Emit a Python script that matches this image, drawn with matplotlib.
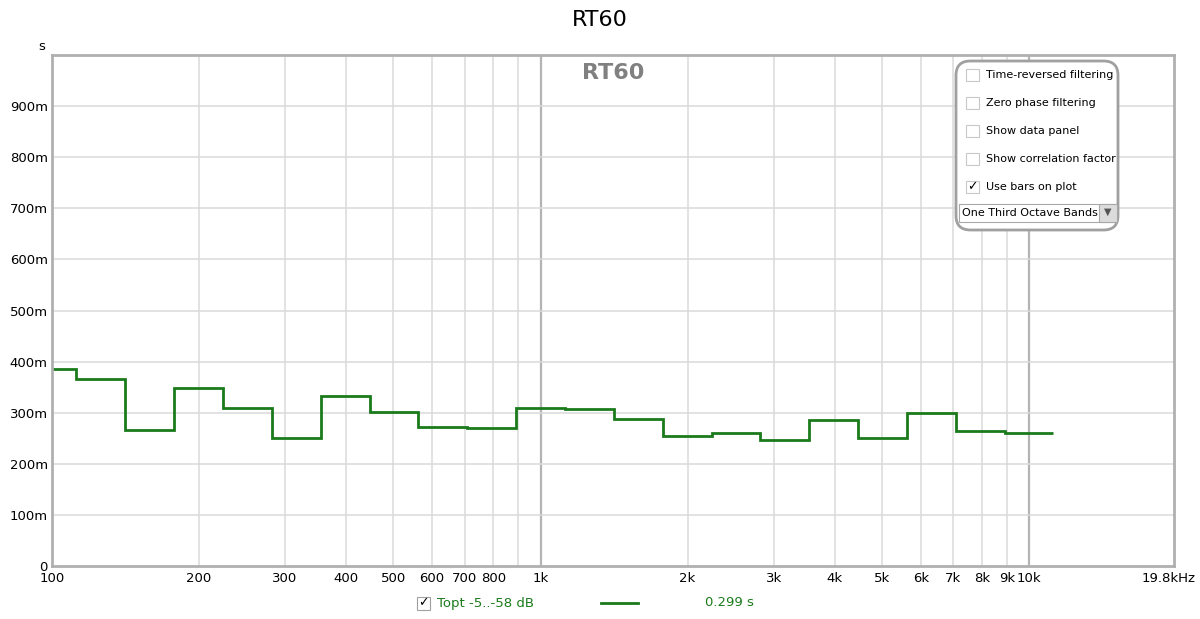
import numpy as np
import matplotlib.pyplot as plt
import matplotlib.transforms as mtransforms
from matplotlib.patches import FancyBboxPatch, Rectangle

# one-third octave band centres (Hz) and RT60 (s)
centres = [100, 125, 160, 200, 250, 315, 400, 500, 630, 800, 1000,
           1250, 1600, 2000, 2500, 3150, 4000, 5000, 6300, 8000, 10000]
rt60 = [0.385, 0.366, 0.267, 0.348, 0.309, 0.251, 0.332, 0.301, 0.272, 0.270, 0.310,
        0.307, 0.288, 0.254, 0.260, 0.246, 0.285, 0.250, 0.299, 0.264, 0.261]

xticks = [100, 200, 300, 400, 500, 600, 700, 800, 900, 1000, 2000, 3000, 4000,
          5000, 6000, 7000, 8000, 9000, 10000, 19800]
xlabels = ['100', '200', '300', '400', '500', '600', '700', '800', '', '1k', '2k', '3k',
           '4k', '5k', '6k', '7k', '8k', '9k', '10k', '19.8kHz']
yticks = [0, 0.1, 0.2, 0.3, 0.4, 0.5, 0.6, 0.7, 0.8, 0.9]
ylabels = ['0', '100m', '200m', '300m', '400m', '500m', '600m', '700m', '800m', '900m']

options = ['Time-reversed filtering', 'Zero phase filtering', 'Show data panel',
           'Show correlation factor', 'Use bars on plot']
checked = [False, False, False, False, True]

green = '#1b7a1b'

fig = plt.figure(figsize=(12, 6.19), dpi=100)
W, H = 1200, 619
ax = fig.add_axes([52 / W, 1 - 566 / H, (1174 - 52) / W, (566 - 55) / H])

# band edges from centres
c = np.array(centres, dtype=float)
exact = 1000 * 10 ** (np.round(10 * np.log10(c / 1000)) / 10)
edges = np.append(exact * 10 ** -0.05, exact[-1] * 10 ** 0.05)
ax.stairs(rt60, edges, color=green, lw=2, baseline=None)

ax.set_xscale('log')
ax.set_xlim(100, 19800)
ax.set_ylim(0, 1.0)
ax.set_xticks(xticks)
ax.set_xticklabels(xlabels)
ax.minorticks_off()
ax.set_yticks(yticks)
ax.set_yticklabels(ylabels)
ax.tick_params(length=0, labelsize=9.5, pad=4)
ax.tick_params(axis='y', pad=3)

# nudge the last label inward like the original
last = ax.get_xticklabels()[-1]
last.set_transform(last.get_transform() +
                   mtransforms.ScaledTranslation(-5 / 100, 0, fig.dpi_scale_trans))

for x in xticks[1:-1]:
    col = '#b4b4b4' if x in (1000, 10000) else '#dadada'
    lw = 1.6 if x in (1000, 10000) else 1.1
    ax.axvline(x, color=col, lw=lw, zorder=0)
for y in yticks[1:]:
    ax.axhline(y, color='#dadada', lw=1.1, zorder=0)

for s in ax.spines.values():
    s.set_color('#b0b0b0')
    s.set_linewidth(2)

fig.text(0.5, 1 - 20 / H, 'RT60', ha='center', va='center', fontsize=16)
ax.text(0.5, 0.965, 'RT60', transform=ax.transAxes, ha='center', va='center',
        fontsize=16, fontweight='bold', color='#808080')
fig.text(42 / W, 1 - 46 / H, 's', ha='center', va='center', fontsize=9.5)

# option panel
def fx(px):
    return px / W

def fy(py):
    return 1 - py / H

panel = FancyBboxPatch((fx(956), fy(230)), fx(1118) - fx(956), fy(61) - fy(230),
                       boxstyle='round,pad=0,rounding_size=0.012',
                       transform=fig.transFigure, facecolor='white',
                       edgecolor='#a0a0a0', lw=2, mutation_aspect=W / H)
fig.patches.append(panel)
for i, (lab, chk) in enumerate(zip(options, checked)):
    yy = 75 + i * 28
    fig.patches.append(Rectangle((fx(966), fy(yy + 6)), fx(13), 12 / H,
                                 transform=fig.transFigure, facecolor='white',
                                 edgecolor='#c8c8c8', lw=0.8))
    if chk:
        fig.text(fx(972.5), fy(yy), '✓', ha='center', va='center', fontsize=9)
    fig.text(fx(986), fy(yy), lab, ha='left', va='center', fontsize=8)
fig.patches.append(Rectangle((fx(959), fy(222)), fx(158), 18 / H,
                             transform=fig.transFigure, facecolor='white',
                             edgecolor='#a8a8a8', lw=0.8))
fig.patches.append(Rectangle((fx(1099), fy(222)), fx(18), 18 / H,
                             transform=fig.transFigure, facecolor='#dcdcdc',
                             edgecolor='#a8a8a8', lw=0.8))
fig.text(fx(962), fy(213), 'One Third Octave Bands', ha='left', va='center', fontsize=8)
fig.text(fx(1108), fy(212), '▼', ha='center', va='center', fontsize=7, color='#555555')

# legend row
fig.patches.append(Rectangle((fx(417), fy(610)), fx(13), 13 / H,
                             transform=fig.transFigure, facecolor='white',
                             edgecolor='#a0a0a0', lw=0.8))
fig.text(fx(423.5), fy(603), '✓', ha='center', va='center', fontsize=9)
fig.text(fx(437), fy(603), 'Topt -5..-58 dB', ha='left', va='center',
         fontsize=9.5, color=green)
fig.add_artist(plt.Line2D([fx(601), fx(638)], [fy(603), fy(603)],
                          transform=fig.transFigure, color=green, lw=2))
fig.text(fx(705), fy(603), '%.3f s' % 0.299, ha='left', va='center',
         fontsize=9.5, color=green)

fig.savefig('out.png', dpi=100)
